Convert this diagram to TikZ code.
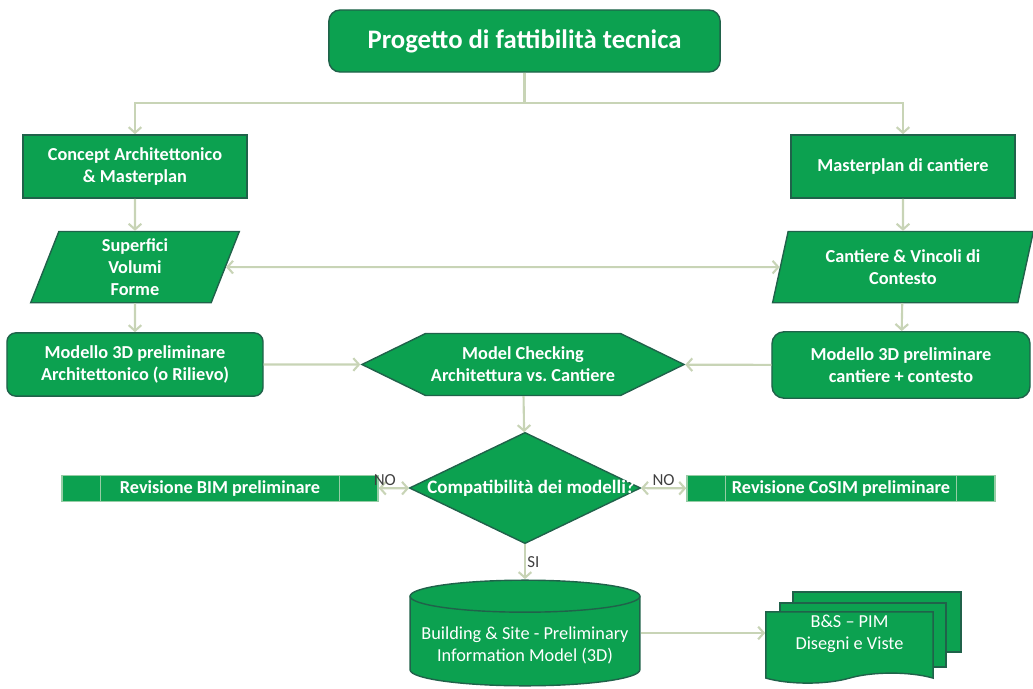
\documentclass[tikz,border=0pt]{standalone}
\usepackage{fontspec}
\setmainfont{Carlito}
\usetikzlibrary{arrows.meta,positioning,shapes.geometric,shapes.symbols}
\definecolor{boxgreen}{RGB}{12,161,80}
\definecolor{boxedge}{RGB}{32,98,74}
\definecolor{revedge}{RGB}{150,205,165}
\definecolor{linkgray}{RGB}{200,212,182}
\definecolor{labgray}{RGB}{64,64,64}

\begin{document}
\begin{tikzpicture}[x=0.025cm, y=-0.025cm, node distance=0.8cm,
    >={Straight Barb[length=4pt,width=9pt]},
    every node/.style={text=white, align=center, inner sep=2pt, font=\fontsize{13}{15.6}\selectfont\bfseries},
    box/.style={rectangle, draw=boxedge, fill=boxgreen, line width=1pt, minimum width=5.6cm, minimum height=1.58cm},
    rbox/.style={box, rounded corners=0.22cm},
    slant/.style={trapezium, trapezium stretches=true, draw=boxedge, fill=boxgreen, line width=1pt, minimum height=1.78cm},
    revbox/.style={rectangle, draw=revedge, fill=boxgreen, line width=1pt, minimum height=0.65cm,
      path picture={
        \draw[revedge, line width=1pt] ([xshift=0.97cm]path picture bounding box.north west) -- ([xshift=0.97cm]path picture bounding box.south west);
        \draw[revedge, line width=1pt] ([xshift=-0.97cm]path picture bounding box.north east) -- ([xshift=-0.97cm]path picture bounding box.south east);}},
    drum/.style={rectangle, minimum width=5.78cm, minimum height=2.68cm,
      path picture={
        \draw[boxedge, fill=boxgreen, line width=1pt] ([xshift=0.5pt, yshift=-0.42cm]path picture bounding box.north west)
          -- ([xshift=0.5pt, yshift=0.42cm]path picture bounding box.south west)
          arc[start angle=180, end angle=360, x radius=2.872cm, y radius=0.4cm]
          -- ([xshift=-0.5pt, yshift=-0.42cm]path picture bounding box.north east)
          arc[start angle=0, end angle=180, x radius=2.872cm, y radius=0.4cm] -- cycle;
        \draw[boxedge, line width=1pt] ([xshift=0.5pt, yshift=-0.42cm]path picture bounding box.north west)
          arc[start angle=180, end angle=360, x radius=2.872cm, y radius=0.4cm];}},
    plain/.style={font=\fontsize{13}{15.6}\selectfont},
    page/.style={rectangle, draw=boxedge, fill=boxgreen, line width=1pt, minimum width=4.18cm},
    link/.style={draw=linkgray, line width=1.5pt},
    tag/.style={text=labgray, inner sep=1pt, font=\fontsize{12}{14}\selectfont}]
  \useasboundingbox (0,0) rectangle (1033,689);

  \node (title) at (524.5,41) [rbox, rounded corners=0.28cm, minimum width=9.78cm, minimum height=1.55cm, font=\fontsize{19}{23}\selectfont\bfseries] {Progetto di fattibilità tecnica};
  \coordinate (split) at (524.5,103);

  % ramo architettura
  \node (concept) at (135,166.5) [box] {Concept Architettonico\\\& Masterplan};
  \node (lpar) [below=of concept, slant, minimum width=5.25cm, trapezium left angle=78, trapezium right angle=102] {Superfici\\Volumi\\Forme};
  \node (lmodel) at (135,364.5) [rbox, minimum width=6.4cm] {Modello 3D preliminare\\Architettonico (o Rilievo)};

  % ramo cantiere
  \node (msite) at (903,166.5) [box] {Masterplan di cantiere};
  \node (rpar) [below=of msite, slant, minimum width=6.53cm, trapezium left angle=75, trapezium right angle=105] {Cantiere \& Vincoli di\\Contesto};
  \node (rmodel) at (901,365) [rbox, rounded corners=0.3cm, minimum width=6.45cm, minimum height=1.66cm] {Modello 3D preliminare\\cantiere + contesto};

  % verifica
  \node (check) at (523,364.5) [signal, signal to=west and east, signal pointer angle=52, draw=boxedge, fill=boxgreen, line width=1pt, minimum width=8.05cm, minimum height=1.55cm] {Model Checking\\Architettura vs.\ Cantiere};
  \node (compat) at (525,488) [diamond, aspect=2.08, draw=boxedge, fill=boxgreen, line width=1pt, minimum width=5.78cm, minimum height=2.78cm, inner sep=0pt,
    label={[xshift=0.15cm, font=\fontsize{13.5}{16}\selectfont\bfseries]center:Compatibilità dei modelli?}] {};
  \node (bim) at (220,488.5) [revbox, minimum width=7.9cm] {Revisione BIM preliminare};
  \node (cosim) at (841,488.5) [revbox, minimum width=7.7cm] {Revisione CoSIM preliminare};

  % modello finale
  \node (bsim) at (525,633) [drum, plain] {\rule{0pt}{0.95cm}Building \& Site - Preliminary\\Information Model (3D)};
  \node (pagec) at (877,622) [page, minimum height=1.5cm, minimum width=4.2cm] {};
  \node (pageb) at (863,635) [page, minimum height=1.6cm, minimum width=4.15cm] {};
  \node (pagea) at (849.5,642.5) [page, tape, tape bend top=none, tape bend height=0.25cm, minimum height=1.78cm,
    label={[plain, yshift=0.22cm]center:B\&S -- PIM\\Disegni e Viste}] {};

  \draw[link] (title) -- (split);
  \draw[link,->] (split) -| (concept);
  \draw[link,->] (split) -| (msite);
  \draw[link,->] (concept) -- (lpar);
  \draw[link,->] (msite) -- (rpar);
  \draw[link,<->] (lpar) -- (rpar);
  \draw[link,->] (lpar) -- (lmodel);
  \draw[link,->] (rpar) -- (rmodel);
  \draw[link,->] (lmodel) -- (check);
  \draw[link,->] (rmodel) -- (check);
  \draw[link,->] (check) -- (compat);
  \draw[link,<->] (bim) -- node[tag, above, pos=0.2] {NO} (compat);
  \draw[link,<->] (compat) -- node[tag, above] {NO} (cosim);
  \draw[link,->] (compat) -- node[tag, right] {SI} (bsim);
  \draw[link,->] (bsim.east) -- (bsim.east -| pagea.west);
\end{tikzpicture}
\end{document}
